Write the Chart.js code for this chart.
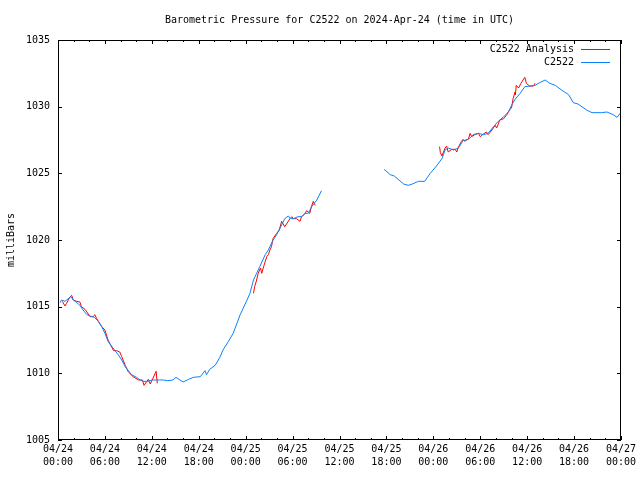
<!DOCTYPE html>
<html>
<head>
<meta charset="utf-8">
<script src="https://cdn.jsdelivr.net/npm/chart.js@4.4.1/dist/chart.umd.min.js"></script>
<style>
html, body { margin: 0; padding: 0; background: #fff; }
#wrap { width: 640px; height: 480px; }
</style>
</head>
<body>
<div id="wrap"><canvas id="pressureChart" width="640" height="480"></canvas></div>
<script>
// ===================================
// Barometric pressure chart (gnuplot look)
// ===================================

const titleText = 'Barometric Pressure for C2522 on 2024-Apr-24 (time in UTC)';
const yAxisLabel = 'milliBars';
const seriesNames = ['C2522 Analysis', 'C2522'];
const seriesColors = ['#ff0000', '#0a80ff'];

// x ticks: hours since 04/24 00:00
const tickDays = ['04/24', '04/24', '04/24', '04/24', '04/25', '04/25', '04/25', '04/25', '04/26', '04/26', '04/26', '04/26', '04/27'];
const tickTimes = ['00:00', '06:00', '12:00', '18:00', '00:00', '06:00', '12:00', '18:00', '00:00', '06:00', '12:00', '18:00', '00:00'];

// C2522 Analysis (null = gap)
const analysisHours = [
    0.55, 0.9, 1.1, 1.5, 1.75, 1.96, 2.4, 2.8, 3.0, 3.45, 3.7, 4.1, 4.5, 4.7, 4.95, 5.6, 6.0, 6.4,
    7.1, 7.5, 7.9, 8.15, 8.6, 9.0, 9.6, 10.3, 10.8, 11.0, 11.55, 11.8, 12.55, 12.7,
    18,
    25.0, 25.15, 25.4, 25.6, 25.9, 26.05, 26.35, 26.7, 26.9, 27.1, 27.3, 27.5, 27.97, 28.3, 28.6,
    29.0, 29.45, 29.65, 29.9, 30.1, 30.5, 30.95, 31.15, 31.6, 31.8, 32.2, 32.4, 32.65, 32.9,
    40,
    48.8, 48.9, 49.1, 49.5, 49.7, 49.9, 50.35, 50.8, 51.0, 51.2, 51.6, 51.8, 52.0, 52.5, 52.7, 52.9,
    53.3, 53.75, 54.0, 54.4, 54.8, 55.0, 55.5, 55.9, 56.1, 56.5, 57.0, 57.4, 57.6, 57.8, 58.0, 58.2,
    58.45, 58.5, 58.6, 58.9, 59.2, 59.7, 59.9, 60.3, 60.8, 61.0
];
const analysisValues = [
    1015.4, 1015.05, 1015.25, 1015.7, 1015.85, 1015.5, 1015.4, 1015.35, 1015.0, 1014.8, 1014.6, 1014.25, 1014.25, 1014.4, 1014.1, 1013.5, 1013.25, 1012.5,
    1011.7, 1011.7, 1011.6, 1011.25, 1010.6, 1010.1, 1009.75, 1009.5, 1009.5, 1009.1, 1009.55, 1009.2, 1010.15, 1009.25,
    null,
    1016.0, 1016.5, 1017.0, 1017.5, 1017.9, 1017.5, 1018.1, 1018.75, 1018.9, 1019.25, 1019.5, 1020.1, 1020.5, 1020.75, 1021.4,
    1021.0, 1021.4, 1021.6, 1021.75, 1021.6, 1021.6, 1021.4, 1021.75, 1022.0, 1022.2, 1022.0, 1022.5, 1022.9, 1022.6,
    null,
    1027.0, 1026.55, 1026.3, 1026.9, 1027.05, 1026.6, 1026.8, 1026.8, 1026.6, 1026.95, 1027.4, 1027.55, 1027.4, 1027.6, 1028.0, 1027.75,
    1027.9, 1028.0, 1027.75, 1027.95, 1028.1, 1027.9, 1028.25, 1028.6, 1028.4, 1029.0, 1029.1, 1029.4, 1029.6, 1029.8, 1029.9, 1030.6,
    1031.1, 1030.9, 1031.6, 1031.4, 1031.75, 1032.2, 1031.75, 1031.55, 1031.55, 1031.75
];

// C2522 station
const stationHours = [
    0.25, 0.45, 0.9, 1.3, 1.66, 1.96, 2.4, 2.8, 3.2, 3.7, 4.1, 4.65, 5.15, 5.6, 6.0, 6.4, 6.9, 7.3, 7.7,
    8.15, 8.6, 9.0, 9.4, 10.05, 10.5, 10.9, 11.5, 12.0, 12.4, 13.0, 13.5, 14.0, 14.7, 15.1, 15.6, 16.0,
    16.7, 17.3, 18.2, 18.8, 19.0, 19.4, 20.1, 20.7, 21.1, 21.8, 22.4, 23.3, 24.1, 24.55, 25.0, 25.4, 25.8,
    26.5, 26.9, 27.5, 27.97, 28.4, 29.0, 29.45, 29.75, 30.1, 30.7, 31.2, 31.6, 32.0, 32.45, 33.1, 33.7,
    37,
    41.7, 42.5, 43.0, 43.6, 44.2, 44.8, 45.3, 46.1, 46.9, 47.6, 48.4, 49.1, 49.5, 49.9, 50.6, 51.2, 51.8,
    52.5, 53.1, 53.75, 54.4, 55.0, 55.7, 56.3, 57.0, 57.6, 58.0, 58.45, 59.1, 59.7, 60.4, 61.0, 61.6,
    62.3, 62.9, 63.6, 64.4, 65.3, 65.9, 66.5, 67.6, 68.3, 69.5, 70.2, 71.0, 71.5, 71.9
];
const stationValues = [
    1015.3, 1015.5, 1015.4, 1015.6, 1015.75, 1015.5, 1015.3, 1015.1, 1014.75, 1014.4, 1014.3, 1014.2, 1013.9, 1013.5, 1013.0, 1012.4, 1012.0, 1011.7, 1011.4,
    1011.0, 1010.5, 1010.2, 1009.9, 1009.7, 1009.5, 1009.4, 1009.4, 1009.5, 1009.5, 1009.5, 1009.5, 1009.45, 1009.5, 1009.7, 1009.5, 1009.35,
    1009.55, 1009.7, 1009.75, 1010.2, 1009.9, 1010.3, 1010.6, 1011.2, 1011.75, 1012.4, 1013.0, 1014.4, 1015.4, 1016.0, 1017.0, 1017.5, 1018.0,
    1018.9, 1019.25, 1020.0, 1020.4, 1020.9, 1021.6, 1021.8, 1021.6, 1021.6, 1021.75, 1021.75, 1022.0, 1022.0, 1022.5, 1023.0, 1023.7,
    null,
    1025.3, 1024.9, 1024.8, 1024.5, 1024.2, 1024.1, 1024.2, 1024.4, 1024.4, 1025.0, 1025.55, 1026.1, 1026.75, 1026.9, 1026.75, 1026.9, 1027.45,
    1027.55, 1027.9, 1028.0, 1027.9, 1028.0, 1028.5, 1028.9, 1029.25, 1029.6, 1030.1, 1030.55, 1031.0, 1031.5, 1031.55, 1031.6, 1031.8,
    1032.0, 1031.75, 1031.6, 1031.25, 1030.9, 1030.3, 1030.2, 1029.75, 1029.55, 1029.55, 1029.6, 1029.4, 1029.2, 1029.5
];

const FONT = "'DejaVu Sans Mono', 'Liberation Mono', monospace";

function toPoints(hours, values) {
    return hours.map((h, i) => ({ x: h, y: values[i] }));
}

// Frame, inward ticks, title and legend drawn gnuplot style
const gnuplotFrame = {
    id: 'gnuplotFrame',
    afterDraw(chart) {
        const ctx = chart.ctx;
        const area = chart.chartArea;
        const xs = chart.scales.x;
        const ys = chart.scales.y;
        ctx.save();
        ctx.strokeStyle = '#000';
        ctx.lineWidth = 1;

        // x ticks every 2 hours, major every 6
        for (let h = 0; h <= 72; h += 2) {
            const px = Math.round(xs.getPixelForValue(h)) + 0.5;
            const len = h % 6 === 0 ? 4 : 2;
            ctx.beginPath();
            ctx.moveTo(px, area.bottom);
            ctx.lineTo(px, area.bottom - len);
            ctx.moveTo(px, area.top);
            ctx.lineTo(px, area.top + len);
            ctx.stroke();
        }
        // y ticks on both sides
        ys.ticks.forEach(t => {
            const py = Math.round(ys.getPixelForValue(t.value)) + 0.5;
            ctx.beginPath();
            ctx.moveTo(area.left, py);
            ctx.lineTo(area.left + 4, py);
            ctx.moveTo(area.right, py);
            ctx.lineTo(area.right - 4, py);
            ctx.stroke();
        });

        ctx.strokeRect(Math.round(area.left) + 0.5, Math.round(area.top) + 0.5,
            Math.round(area.right - area.left) - 1, Math.round(area.bottom - area.top) - 1);

        // title
        ctx.fillStyle = '#000';
        ctx.font = '10px ' + FONT;
        ctx.textAlign = 'center';
        ctx.textBaseline = 'middle';
        ctx.fillText(titleText, (area.left + area.right) / 2, 20);

        // legend
        ctx.textAlign = 'right';
        chart.data.datasets.forEach((ds, i) => {
            const y = 49 + i * 13;
            ctx.fillStyle = '#000';
            ctx.fillText(ds.label, 574, y + 0.5);
            ctx.strokeStyle = ds.borderColor;
            ctx.beginPath();
            ctx.moveTo(581, y + 0.5);
            ctx.lineTo(610, y + 0.5);
            ctx.stroke();
        });
        ctx.restore();
    }
};

function initPressureChart() {
    const ctx = document.getElementById('pressureChart');
    Chart.defaults.font.family = FONT;
    Chart.defaults.font.size = 10;
    Chart.defaults.color = '#000';

    new Chart(ctx, {
        type: 'line',
        data: {
            datasets: [{
                label: seriesNames[0],
                data: toPoints(analysisHours, analysisValues),
                borderColor: seriesColors[0],
                borderWidth: 1,
                pointRadius: 0,
                tension: 0,
                spanGaps: false,
                order: 2
            }, {
                label: seriesNames[1],
                data: toPoints(stationHours, stationValues),
                borderColor: seriesColors[1],
                borderWidth: 1,
                pointRadius: 0,
                tension: 0,
                spanGaps: false,
                order: 1
            }]
        },
        options: {
            responsive: false,
            animation: false,
            devicePixelRatio: 1,
            layout: { padding: { top: 40, right: 19, bottom: 0, left: 0 } },
            plugins: {
                legend: { display: false },
                title: { display: false },
                tooltip: { enabled: false }
            },
            scales: {
                x: {
                    type: 'linear',
                    min: 0,
                    max: 72,
                    grid: { display: false, drawTicks: false },
                    border: { display: false },
                    ticks: {
                        stepSize: 6,
                        autoSkip: false,
                        maxRotation: 0,
                        padding: 3,
                        font: { size: 10, lineHeight: 1.3 },
                        callback: function(value) {
                            const i = Math.round(value / 6);
                            return [tickDays[i], tickTimes[i]];
                        }
                    },
                    afterFit: function(scale) { scale.height = 40; }
                },
                y: {
                    min: 1005,
                    max: 1035,
                    grid: { display: false, drawTicks: false },
                    border: { display: false },
                    ticks: {
                        stepSize: 5,
                        padding: 8,
                        callback: function(value) { return String(value); }
                    },
                    title: {
                        display: true,
                        text: yAxisLabel,
                        font: { size: 10, lineHeight: 1.2 },
                        padding: { top: 5, bottom: 0 }
                    },
                    afterFit: function(scale) { scale.width = 58; }
                }
            }
        },
        plugins: [gnuplotFrame]
    });
}

document.addEventListener('DOMContentLoaded', () => {
    initPressureChart();
});
</script>
</body>
</html>
